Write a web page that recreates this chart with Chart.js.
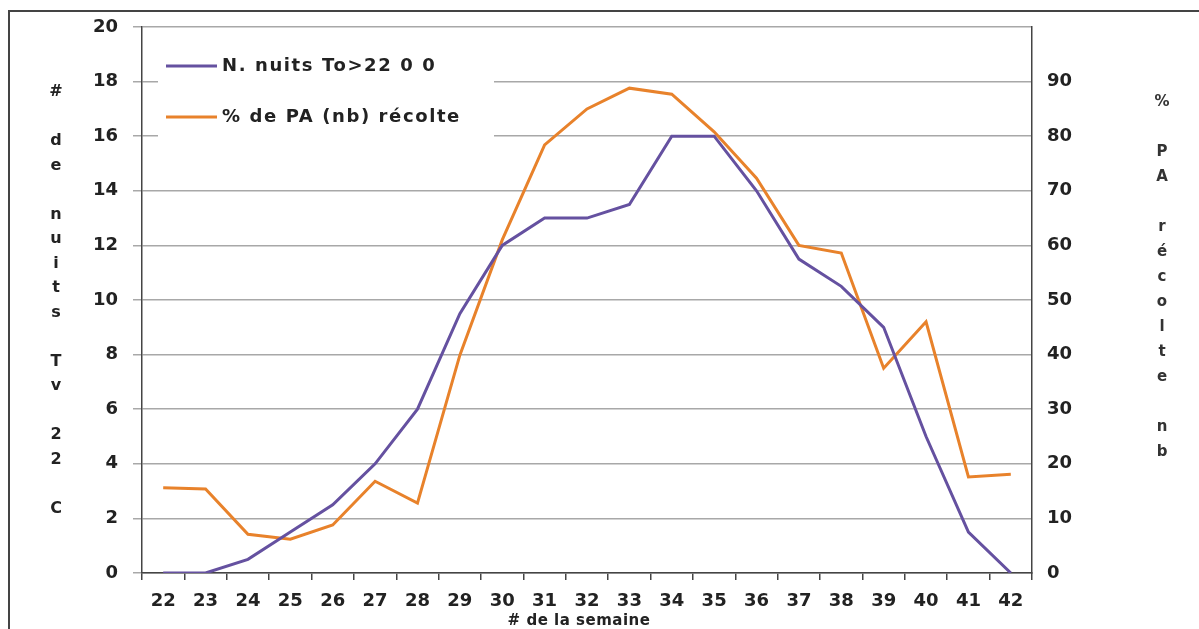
<!DOCTYPE html>
<html lang="fr">
<head>
<meta charset="UTF-8">
<title>Nuits chaudes et % PA récolte</title>
<script src="https://cdn.jsdelivr.net/npm/chart.js"></script>
<style>
  html, body { margin: 0; padding: 0; background: #fff; }
  .wrap { position: relative; width: 1199px; height: 629px; }
</style>
</head>
<body>
<div class="wrap"><canvas id="chart" width="1199" height="629"></canvas></div>
<script>
// semaines
const weeks = ['22','23','24','25','26','27','28','29','30','31','32','33','34','35','36','37','38','39','40','41','42'];
// nombre de nuits T > 22 (axe gauche)
const nuits = [0, 0, 0.5, 1.5, 2.5, 4, 6, 9.5, 12, 13, 13, 13.5, 16, 16, 14, 11.5, 10.5, 9, 5, 1.5, 0];
// % de PA (nb) récolté (axe droit)
const pctPA = [15.6, 15.4, 7.1, 6.2, 8.8, 16.8, 12.8, 39.9, 61, 78.4, 85, 88.8, 87.7, 80.8, 72.3, 60, 58.6, 37.5, 46, 17.6, 18.1];

const leftTitle = ['#', '', 'd', 'e', '', 'n', 'u', 'i', 't', 's', '', 'T', 'v', '', '2', '2', '', 'C'];
const rightTitle = ['%', '', 'P', 'A', '', 'r', 'é', 'c', 'o', 'l', 't', 'e', '', 'n', 'b'];
const xTitle = '# de la semaine';

const PURPLE = '#6551a0';
const ORANGE = '#e8822b';
const FONT = "'DejaVu Sans', sans-serif";

// frame, stacked axis titles and the boxed legend
const decor = {
  id: 'decor',
  beforeDraw(chart) {
    const ctx = chart.ctx;
    ctx.save();
    ctx.fillStyle = '#fff';
    ctx.fillRect(0, 0, chart.width, chart.height);
    ctx.strokeStyle = '#444';
    ctx.lineWidth = 2;
    ctx.beginPath();
    ctx.moveTo(9, chart.height);
    ctx.lineTo(9, 11);
    ctx.lineTo(chart.width, 11);
    ctx.stroke();
    ctx.restore();
  },
  beforeDatasetsDraw(chart) {
    const ctx = chart.ctx;
    ctx.save();
    // legend box hides the grid behind it
    ctx.fillStyle = '#fff';
    ctx.fillRect(158, 42, 336, 102);
    ctx.font = 'bold 18px ' + FONT;
    ctx.textBaseline = 'middle';
    ctx.fillStyle = '#222';
    chart.data.datasets.forEach((ds, i) => {
      const y = 66 + i * 51;
      ctx.strokeStyle = ds.borderColor;
      ctx.lineWidth = 3;
      ctx.beginPath();
      ctx.moveTo(166, y);
      ctx.lineTo(217, y);
      ctx.stroke();
      ctx.letterSpacing = '1.6px';
      ctx.fillText(ds.label, 222, y);
      ctx.letterSpacing = '0px';
    });
    ctx.restore();
  },
  afterDraw(chart) {
    const ctx = chart.ctx;
    ctx.save();
    ctx.fillStyle = '#222';
    ctx.textAlign = 'center';
    ctx.textBaseline = 'middle';
    ctx.font = 'bold 16px ' + FONT;
    leftTitle.forEach((ch, i) => { if (ch) ctx.fillText(ch, 56, 92 + i * 24.5); });
    ctx.font = 'bold 15px ' + FONT;
    ctx.fillStyle = '#333';
    rightTitle.forEach((ch, i) => { if (ch) ctx.fillText(ch, 1162, 102 + i * 25); });
    ctx.fillStyle = '#222';
    ctx.font = 'bold 15px ' + FONT;
    ctx.letterSpacing = '0.5px';
    ctx.fillText(xTitle, 579, 621);
    ctx.restore();
  }
};

new Chart(document.getElementById('chart'), {
  type: 'line',
  data: {
    labels: weeks,
    datasets: [
      {
        label: 'N. nuits To>22 0 0',
        data: nuits,
        yAxisID: 'y',
        borderColor: PURPLE,
        borderWidth: 3,
        pointRadius: 0,
        tension: 0,
        fill: false
      },
      {
        label: '% de PA (nb) récolte',
        data: pctPA,
        yAxisID: 'y1',
        borderColor: ORANGE,
        borderWidth: 3,
        pointRadius: 0,
        tension: 0,
        fill: false
      }
    ]
  },
  options: {
    responsive: false,
    animation: false,
    devicePixelRatio: 1,
    layout: { padding: { top: 27, left: 0, right: 0, bottom: 0 } },
    plugins: {
      legend: { display: false },
      tooltip: { enabled: false }
    },
    scales: {
      x: {
        offset: true,
        afterFit(s) { s.height = 56; },
        grid: { drawOnChartArea: false, drawTicks: true, tickLength: 7, color: '#444', lineWidth: 1.5, offset: true },
        border: { color: '#444', width: 1.5 },
        ticks: { color: '#222', padding: 11, maxRotation: 0, autoSkip: false, font: { family: FONT, size: 18, weight: 'bold' } }
      },
      y: {
        position: 'left',
        min: 0,
        max: 20,
        afterFit(s) { s.width = 142; },
        grid: { color: '#a8a8a8', lineWidth: 1.5, tickLength: 9, drawTicks: true },
        border: { color: '#444', width: 1.5 },
        ticks: { stepSize: 2, color: '#222', padding: 15, font: { family: FONT, size: 18, weight: 'bold' } }
      },
      y1: {
        position: 'right',
        min: 0,
        max: 100,
        afterFit(s) { s.width = 167; },
        grid: { drawOnChartArea: false, drawTicks: false },
        border: { color: '#444', width: 1.5 },
        ticks: {
          stepSize: 10,
          color: '#222',
          padding: 15,
          font: { family: FONT, size: 18, weight: 'bold' },
          callback: v => (v === 100 ? '' : v)
        }
      }
    }
  },
  plugins: [decor]
});
</script>
</body>
</html>
